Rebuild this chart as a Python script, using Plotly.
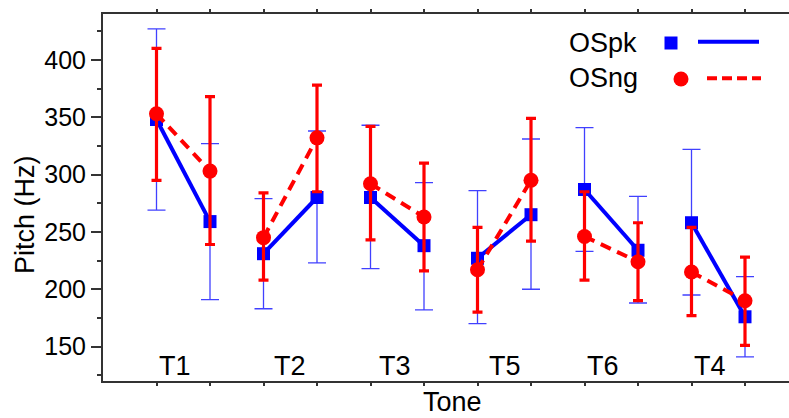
import plotly.graph_objects as go

# ---- data ----
tones = ["T1", "T2", "T3", "T5", "T6", "T4"]
x_pos = list(range(1, 13))

ospk_mean = [348, 259, 231, 280, 280, 238, 227, 265, 287, 234, 258, 176]
ospk_upper = [427, 327, 279, 338, 343, 293, 286, 331, 341, 281, 322, 211]
ospk_lower = [269, 191, 183, 223, 218, 182, 170, 200, 233, 188, 195, 141]

osng_mean = [353, 303, 245, 332, 292, 263, 217, 295, 246, 224, 215, 190]
osng_upper = [410, 368, 284, 378, 342, 310, 254, 349, 285, 258, 254, 228]
osng_lower = [295, 239, 208, 285, 243, 216, 180, 242, 208, 190, 177, 151]

tone_label_x = [1.35, 3.5, 5.46, 7.51, 9.35, 11.35]
tone_label_y = 133

W, H = 789, 418
ML, MT, MB, MR = 103, 14, 37, 0
PW, PH = W - ML - MR, H - MT - MB

def px(x):
    return (x - ML) / PW

def py(y):
    return (H - MB - y) / PH

BLUE = "#0000ff"
RED = "#ff0000"
FONT = "Liberation Sans"


def paired(vals):
    out_x, out_y = [], []
    for i in range(0, len(vals), 2):
        out_x += [x_pos[i], x_pos[i + 1], None]
        out_y += [vals[i], vals[i + 1], None]
    return out_x, out_y


fig = go.Figure()

bx, by = paired(ospk_mean)
rx, ry = paired(osng_mean)

fig.add_trace(go.Scatter(x=bx, y=by, mode="lines",
                         line=dict(color=BLUE, width=4), showlegend=False,
                         connectgaps=False))
fig.add_trace(go.Scatter(
    x=x_pos, y=ospk_mean, mode="markers",
    marker=dict(symbol="square", size=13, color=BLUE),
    error_y=dict(type="data", symmetric=False,
                 array=[u - m for u, m in zip(ospk_upper, ospk_mean)],
                 arrayminus=[m - l for m, l in zip(ospk_mean, ospk_lower)],
                 color="rgba(0,0,255,0.75)", thickness=1.3, width=9),
    showlegend=False))
fig.add_trace(go.Scatter(x=rx, y=ry, mode="lines",
                         line=dict(color=RED, width=4, dash="11px,7px"),
                         showlegend=False, connectgaps=False))
fig.add_trace(go.Scatter(
    x=x_pos, y=osng_mean, mode="markers",
    marker=dict(symbol="circle", size=15, color=RED),
    error_y=dict(type="data", symmetric=False,
                 array=[u - m for u, m in zip(osng_upper, osng_mean)],
                 arrayminus=[m - l for m, l in zip(osng_mean, osng_lower)],
                 color=RED, thickness=3.2, width=5),
    showlegend=False))

annotations = []
for t, xv in zip(tones, tone_label_x):
    annotations.append(dict(x=xv, y=tone_label_y, xref="x", yref="y", text=t,
                            showarrow=False, font=dict(size=27, color="black", family=FONT),
                            xanchor="center", yanchor="middle"))

annotations.append(dict(x=px(452), y=py(418), xref="paper", yref="paper", text="Tone",
                        showarrow=False, font=dict(size=27, color="black", family=FONT),
                        xanchor="center", yanchor="bottom", borderpad=0))
annotations.append(dict(x=px(25), y=py(215), xref="paper", yref="paper", text="Pitch (Hz)",
                        showarrow=False, textangle=-90,
                        font=dict(size=27, color="black", family=FONT),
                        xanchor="center", yanchor="middle"))
annotations.append(dict(x=px(567), y=py(43), xref="paper", yref="paper", text="OSpk",
                        showarrow=False, font=dict(size=27, color="black", family=FONT),
                        xanchor="left", yanchor="middle"))
annotations.append(dict(x=px(567), y=py(78), xref="paper", yref="paper", text="OSng",
                        showarrow=False, font=dict(size=27, color="black", family=FONT),
                        xanchor="left", yanchor="middle"))

shapes = [
    dict(type="rect", xref="paper", yref="paper", x0=px(664.5), x1=px(677.5),
         y0=py(49.5), y1=py(36.5), fillcolor=BLUE, line=dict(width=0)),
    dict(type="line", xref="paper", yref="paper", x0=px(698), x1=px(759),
         y0=py(41.7), y1=py(41.7), line=dict(color=BLUE, width=4)),
    dict(type="circle", xref="paper", yref="paper", x0=px(673.5), x1=px(688.5),
         y0=py(86.5), y1=py(71.5), fillcolor=RED, line=dict(width=0)),
    dict(type="line", xref="paper", yref="paper", x0=px(707), x1=px(761),
         y0=py(78.3), y1=py(78.3), line=dict(color=RED, width=4, dash="10px,5px")),
]

fig.update_layout(
    width=W, height=H,
    margin=dict(l=ML, r=MR, t=MT, b=MB, pad=0),
    plot_bgcolor="white", paper_bgcolor="white",
    font=dict(family=FONT, color="black"),
    annotations=annotations, shapes=shapes,
    showlegend=False,
)
fig.update_xaxes(range=[0, PW / 53.5], tickvals=x_pos, showticklabels=False,
                 ticks="outside", ticklen=3, tickwidth=1.5, tickcolor="#333",
                 showline=True, linewidth=2, linecolor="#333", mirror="ticks",
                 showgrid=False, zeroline=False)
fig.update_yaxes(range=[120, 440], tickvals=[150, 200, 250, 300, 350, 400],
                 ticks="outside", ticklen=10, tickwidth=1.5, tickcolor="#333",
                 tickfont=dict(size=25, color="black", family=FONT),
                 minor=dict(tickvals=[125, 175, 225, 275, 325, 375, 425],
                            ticks="outside", ticklen=4, tickwidth=1.5, tickcolor="#333"),
                 showline=True, linewidth=2, linecolor="#333", mirror=False,
                 showgrid=False, zeroline=False)

fig.write_html("out.html")
